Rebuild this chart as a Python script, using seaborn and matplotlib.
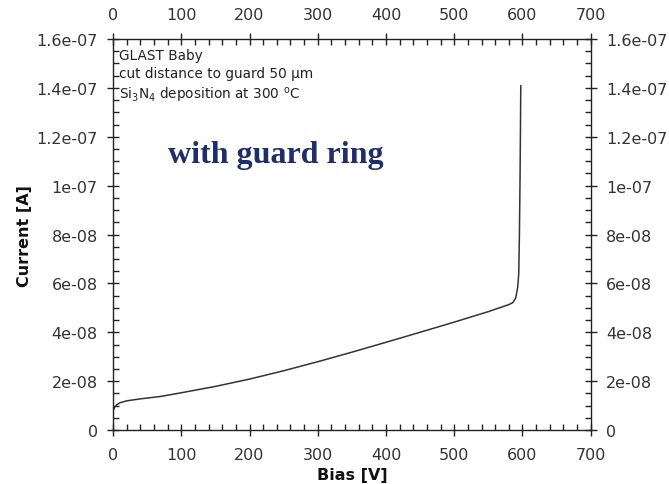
import numpy as np
import pandas as pd
import matplotlib
matplotlib.use("Agg")
import matplotlib.pyplot as plt
import seaborn as sns
from matplotlib.ticker import MultipleLocator, FuncFormatter

bias = [0, 2, 5, 10, 20, 40, 70, 100, 150, 200, 250, 300, 350, 400, 450, 500,
        550, 580, 586, 590, 593, 594.5, 595.5, 596.5, 597.5]
current = [0.78e-8, 0.92e-8, 1.03e-8, 1.12e-8, 1.20e-8, 1.28e-8, 1.38e-8, 1.53e-8,
           1.79e-8, 2.09e-8, 2.43e-8, 2.80e-8, 3.19e-8, 3.595e-8, 4.005e-8, 4.42e-8,
           4.85e-8, 5.135e-8, 5.22e-8, 5.40e-8, 5.85e-8, 6.4e-8, 8.0e-8, 1.05e-7, 1.41e-7]

df = pd.DataFrame({"Bias [V]": bias, "Current [A]": current})

sns.set_theme(style="white")
plt.rcParams['font.family'] = ['DejaVu Sans']

fig = plt.figure(figsize=(6.69, 4.85), dpi=100)
ax = fig.add_axes([0.169, 0.111, 0.714, 0.8065])
sns.lineplot(data=df, x="Bias [V]", y="Current [A]", ax=ax, color="#333333", lw=1.1)

ax.set_xlim(0, 700)
ax.set_ylim(0, 1.6e-7)
ax.xaxis.set_major_locator(MultipleLocator(100))
ax.xaxis.set_minor_locator(MultipleLocator(20))
ax.yaxis.set_major_locator(MultipleLocator(2e-8))
ax.yaxis.set_minor_locator(MultipleLocator(0.5e-8))

def yfmt(v, pos):
    if abs(v) < 1e-12:
        return "0"
    s = "%.1e" % v
    m, e = s.split("e")
    if m.endswith(".0"):
        m = m[:-2]
    return m + "e" + e
ax.yaxis.set_major_formatter(FuncFormatter(yfmt))

for sp in ax.spines.values():
    sp.set_color("#222222")
    sp.set_linewidth(1.0)

ax.tick_params(which="major", direction="inout", length=9, width=1.0, color="#222222",
               labelsize=11.5, labelcolor="#333333",
               top=True, right=True, labeltop=True, labelright=True, bottom=True, left=True)
ax.tick_params(axis="y", which="major", pad=6.5)
ax.tick_params(axis="x", which="major", pad=7.5)
ax.tick_params(which="minor", direction="in", length=4.5, width=1.0, color="#222222",
               top=True, right=True, bottom=True, left=True)

ax.set_xlabel("Bias [V]", fontsize=11.5, fontweight="bold", color="#111111", labelpad=4)
ax.set_ylabel("Current [A]", fontsize=11.5, fontweight="bold", color="#111111", labelpad=3)

ax.text(0.012, 0.978, "GLAST Baby\ncut distance to guard 50 µm\nSi$_3$N$_4$ deposition at 300 $^{\\rm o}$C",
        transform=ax.transAxes, ha="left", va="top", fontsize=9.8, color="#222222",
        linespacing=1.4)

ax.text(0.115, 0.705, "with guard ring", transform=ax.transAxes, ha="left", va="center",
        fontsize=23, fontweight="bold", family=["Liberation Serif"], color="#1f2d6b")

fig.savefig("out.png", dpi=100)
